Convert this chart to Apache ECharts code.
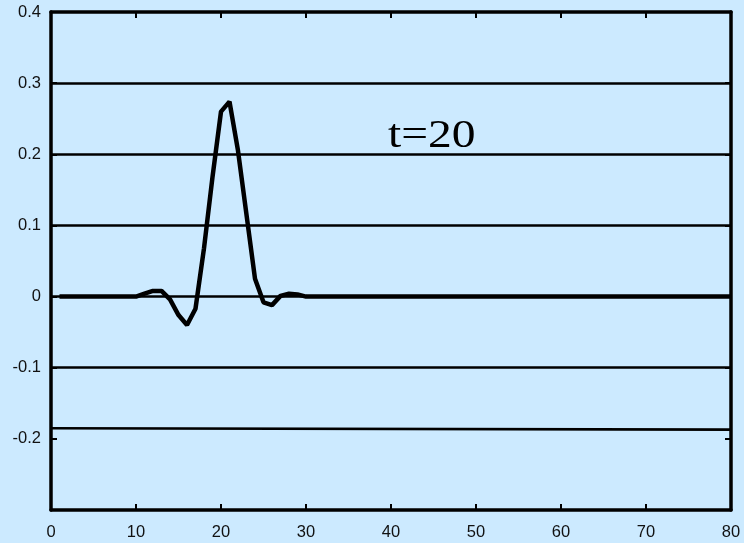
<!DOCTYPE html>
<html>
<head>
<meta charset="utf-8">
<script src="https://cdn.jsdelivr.net/npm/echarts@6/dist/echarts.min.js"></script>
<style>
  html, body { margin: 0; padding: 0; background: #cceaff; }
  #chart { width: 744px; height: 543px; }
</style>
</head>
<body>
<div id="chart"></div>
<script>
// Wave profile sampled at integer positions 1..80
const positions = Array.from({ length: 80 }, (_, i) => i + 1);
const profile = [
  0, 0, 0, 0, 0, 0, 0, 0, 0, 0,                 // 1-10
  0.004, 0.008, 0.008, -0.004, -0.026,          // 11-15
  -0.040, -0.017, 0.068, 0.168, 0.260,          // 16-20
  0.274, 0.205, 0.115, 0.025, -0.008,           // 21-25
  -0.012, 0.001, 0.004, 0.003, 0,               // 26-30
  0, 0, 0, 0, 0, 0, 0, 0, 0, 0,                 // 31-40
  0, 0, 0, 0, 0, 0, 0, 0, 0, 0,                 // 41-50
  0, 0, 0, 0, 0, 0, 0, 0, 0, 0,                 // 51-60
  0, 0, 0, 0, 0, 0, 0, 0, 0, 0,                 // 61-70
  0, 0, 0, 0, 0, 0, 0, 0, 0, 0                  // 71-80
];

// Horizontal reference lines
const levelLines = [0.3, 0.2, 0.1, 0, -0.1];
// Lower reference line, drawn slightly tilted
const tiltedLine = [[0, -0.185], [80, -0.187]];

const xRange = [0, 80], xStep = 10;
const yRange = [-0.3, 0.4], yStep = 0.1;
const caption = 't=20';

const chart = echarts.init(document.getElementById('chart'));

const axisLine = { show: true, onZero: false, lineStyle: { color: '#000', width: 3.5 } };
const tickIn = { show: true, inside: true, length: 6, lineStyle: { color: '#000', width: 2 } };
const SANS = '"Liberation Sans", Arial, Helvetica, sans-serif';

chart.setOption({
  backgroundColor: '#cceaff',
  animation: false,
  grid: { left: 51, right: 13, top: 12, bottom: 33 },
  xAxis: [
    {
      type: 'value', min: xRange[0], max: xRange[1], interval: xStep, position: 'bottom',
      axisLine, axisTick: tickIn, splitLine: { show: false },
      axisLabel: { margin: 14, color: '#111', fontFamily: SANS, fontSize: 16.5 }
    },
    {
      type: 'value', min: xRange[0], max: xRange[1], interval: xStep, position: 'top',
      axisLine, axisTick: tickIn, splitLine: { show: false },
      axisLabel: { show: false }
    }
  ],
  yAxis: [
    {
      type: 'value', min: yRange[0], max: yRange[1], interval: yStep, position: 'left',
      axisLine, axisTick: tickIn, splitLine: { show: false },
      axisLabel: {
        margin: 10, color: '#111', fontFamily: SANS, fontSize: 16.5,
        padding: [6, 0, 0, 0],
        formatter: v => {
          const r = Math.round(v * 10) / 10;
          if (Math.abs(r - yRange[0]) < 1e-9) return '';
          return r === 0 ? '0' : String(r);
        }
      }
    },
    {
      type: 'value', min: yRange[0], max: yRange[1], interval: yStep, position: 'right',
      axisLine, axisTick: tickIn, splitLine: { show: false },
      axisLabel: { show: false }
    }
  ],
  graphic: [
    {
      type: 'text', x: 388, y: 137, scaleX: 1.22,
      style: {
        text: caption, fill: '#000',
        fontSize: 39, fontFamily: '"Liberation Serif", "Times New Roman", serif',
        textAlign: 'left', textVerticalAlign: 'middle'
      }
    }
  ],
  series: [
    {
      type: 'line',
      data: positions.map((x, i) => [x, profile[i]]),
      symbol: 'none',
      lineStyle: { color: '#000', width: 4.5 },
      z: 5,
      markLine: {
        silent: true,
        symbol: 'none',
        label: { show: false },
        lineStyle: { color: '#000', width: 2.6, type: 'solid' },
        data: levelLines.map(v => ({ yAxis: v }))
          .concat([[{ coord: tiltedLine[0] }, { coord: tiltedLine[1] }]])
      }
    }
  ]
});
</script>
</body>
</html>
